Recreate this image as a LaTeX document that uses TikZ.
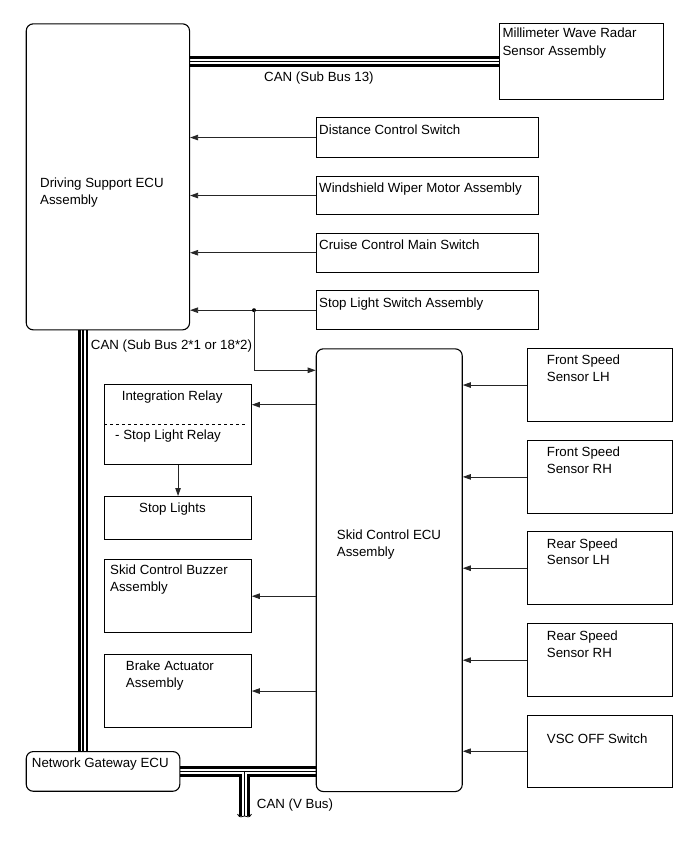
\documentclass[tikz,border=0pt]{standalone}
\usepackage{fontspec}
\setmainfont{Liberation Sans}
\usetikzlibrary{arrows.meta,backgrounds}

\begin{document}
\begin{tikzpicture}[x=1pt, y=-1pt,
  every node/.style={font=\fontsize{13.3}{16.5}\selectfont},
  unit/.style={draw, line width=1.1pt, anchor=north west, inner sep=0pt},
  ecu/.style={unit, rounded corners=7pt},
  lbl/.style={anchor=north west, inner sep=0pt, align=left},
  sig/.style={draw=black!85, line width=0.8pt, -{Triangle[length=8pt,width=5.5pt]}},
  canbus/.style={line width=10.5pt, postaction={draw, white, line width=5pt},
    postaction={draw, black, line width=1.4pt}}]
\useasboundingbox (0,0) rectangle (689,853);

% ECUs
\node[ecu, minimum width=163.3pt, minimum height=306pt] (dsecu) at (25.7,23.3) {};
\node[lbl] (dsecu-t) at (40,177.7) {Driving Support ECU\\Assembly};
\node[ecu, minimum width=146pt, minimum height=442.7pt] (skid) at (315.7,348.3) {};
\node[lbl] (skid-t) at (336.7,530) {Skid Control ECU\\Assembly};
\node[ecu, minimum width=153.6pt, minimum height=39.7pt] (gw) at (25.7,751) {};
\node[lbl] (gw-t) at (31.7,757.3) {Network Gateway ECU};

% inputs of the driving support ECU
\node[unit, minimum width=163.4pt, minimum height=76.3pt] (radar) at (499.3,22.7) {};
\node[lbl] (radar-t) at (502.3,27.3) {Millimeter Wave Radar\\[1.8pt]Sensor Assembly};
\node[unit, minimum width=222pt, minimum height=39.4pt] (dcs) at (315.7,117.3) {};
\node[lbl] (dcs-t) at (319,124.7) {Distance Control Switch};
\node[unit, minimum width=222pt, minimum height=38.6pt] (wwm) at (315.7,175.7) {};
\node[lbl] (wwm-t) at (319,182.7) {Windshield Wiper Motor Assembly};
\node[unit, minimum width=222pt, minimum height=39pt] (ccm) at (315.7,232.7) {};
\node[lbl] (ccm-t) at (319,240) {Cruise Control Main Switch};
\node[unit, minimum width=222pt, minimum height=39.3pt] (ssw) at (315.7,290) {};
\node[lbl] (ssw-t) at (319,297.3) {Stop Light Switch Assembly};

% sensors of the skid control ECU
\node[unit, minimum width=145.6pt, minimum height=72.4pt] (fsl) at (526.7,348.3) {};
\node[lbl] (fsl-t) at (546.7,355) {Front Speed\\Sensor LH};
\node[unit, minimum width=145.6pt, minimum height=72.7pt] (fsr) at (526.7,440) {};
\node[lbl] (fsr-t) at (546.7,446.7) {Front Speed\\Sensor RH};
\node[unit, minimum width=145.6pt, minimum height=73.3pt] (rsl) at (526.7,531) {};
\node[lbl] (rsl-t) at (546.7,538.3) {Rear Speed\\Sensor LH};
\node[unit, minimum width=145.6pt, minimum height=72.7pt] (rsr) at (526.7,623.3) {};
\node[lbl] (rsr-t) at (546.7,631) {Rear Speed\\Sensor RH};
\node[unit, minimum width=145.6pt, minimum height=72pt] (vsc) at (526.7,714.7) {};
\node[lbl] (vsc-t) at (546.7,733.3) {VSC OFF Switch};

% outputs of the skid control ECU
\node[unit, minimum width=146.4pt, minimum height=79.7pt] (ir) at (104.3,384.3) {};
\node[lbl] (ir-t) at (121.7,390.7) {Integration Relay};
\node[lbl] (ir-t2) at (115,430) {- Stop Light Relay};
\draw[dashed, line width=0.7pt] (ir.west) -- ([xshift=-4pt]ir.east);
\node[unit, minimum width=146.4pt, minimum height=42.7pt] (sl) at (104.3,496) {};
\node[lbl] (sl-t) at (139,502.3) {Stop Lights};
\node[unit, minimum width=146.4pt, minimum height=73.3pt] (buz) at (104.3,559) {};
\node[lbl] (buz-t) at (110,565) {Skid Control Buzzer\\Assembly};
\node[unit, minimum width=146.4pt, minimum height=73.6pt] (brk) at (104.3,653.7) {};
\node[lbl] (brk-t) at (125.7,660.7) {Brake Actuator\\Assembly};

% CAN lines
\begin{scope}[on background layer]
  \draw[canbus] (dsecu.east |- radar.west) -- (radar.west);
  \draw[canbus] ([xshift=-20pt]gw.north) -- ([xshift=-20pt]gw.north |- dsecu.south);
  \coordinate (vbus) at (244.5,816);
  \draw[canbus] (gw.east) -- (gw.east -| skid.west) (vbus |- gw.east) -- (vbus);
\end{scope}
\draw[line width=0.8pt] (237.5,814) .. controls (240,819) and (242,816) .. (244.5,816)
  .. controls (247,816) and (249,819) .. (251.5,814);
\node[lbl] (can13) at (264,71.7) {CAN (Sub Bus 13)};
\node[lbl] (can2) at (90.7,339.3) {CAN (Sub Bus 2*1 or 18*2)};
\node[lbl] (canv) at (256.7,798.3) {CAN (V Bus)};

% signal lines
\foreach \src in {dcs,wwm,ccm,ssw}
  \draw[sig] (\src.west) -- (\src.west -| dsecu.east);
\coordinate (jn) at (ssw.west -| 254,0);
\fill (jn) circle (2pt);
\coordinate (skidin) at ([yshift=-22pt]skid.north west);
\draw[sig] (jn) |- (skidin);
\foreach \src in {fsl,fsr,rsl,rsr,vsc}
  \draw[sig] (\src.west) -- (\src.west -| skid.east);
\coordinate (irin) at ([yshift=20pt]ir.east);
\draw[sig] (irin -| skid.west) -- (irin);
\foreach \dst in {buz,brk}
  \draw[sig] (\dst.east -| skid.west) -- (\dst.east);
\draw[sig] (ir.south) -- (sl.north);
\end{tikzpicture}
\end{document}
